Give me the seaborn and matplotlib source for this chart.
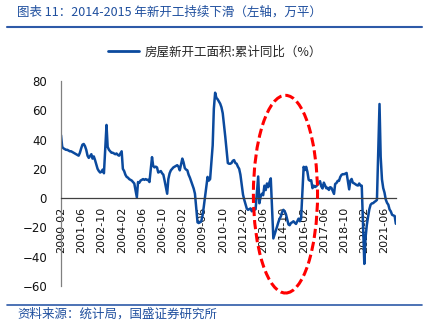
import pandas as pd
import matplotlib
matplotlib.use("Agg")
import matplotlib.pyplot as plt
import matplotlib.dates as mdates
from matplotlib.patches import Ellipse
from matplotlib.lines import Line2D
import seaborn as sns

# 房屋新开工面积:累计同比（%），每年 2–12 月（1 月不单独公布）
y2000 = [43, 35, 34, 33.5, 33, 33, 32.5, 32, 32, 31.5, 31]
y2001 = [30, 29.5, 29, 31, 34, 36.5, 37, 35.5, 33, 29, 27.5]
y2002 = [30, 27, 28.5, 26, 23, 20, 18.5, 17.5, 18, 19.5, 17]
y2003 = [50, 35, 33, 32, 31, 31, 30.5, 30, 30.5, 29.5, 29]
y2004 = [32, 20, 18.5, 16, 14.5, 14, 13, 12.5, 12, 11, 10]
y2005 = [0.5, 11, 10.5, 12, 12.5, 13, 12.5, 13, 12.5, 12.5, 11]
y2006 = [28, 22, 21, 21.5, 21, 17.5, 18, 18.5, 17, 16, 12]
y2007 = [3, 13, 17, 19, 20, 21, 21.5, 22, 22.5, 21.5, 19]
y2008 = [27, 24.5, 20.5, 19.5, 19, 16, 14, 11.5, 9, 6.5, 3]
y2009 = [-16.5, -17, -16.5, -16, -12, -6, 1, 8, 14.5, 12, 13]
y2010 = [36, 61, 72, 68.5, 67.5, 66, 64.5, 62, 58, 50, 42]
y2011 = [24, 23.5, 23.5, 24, 25.5, 26, 24, 23.5, 21.5, 20, 16]
y2012 = [2.5, -1, -4, -7, -8, -7.5, -7, -9, -7.5, -8, -7.5]
y2013 = [14.8, -3.5, 1, 3, 2, 8.5, 5.5, 10, 7.5, 11, 13.5]
y2014 = [-27.5, -25, -22, -19.5, -16.5, -14, -12.5, -9.5, -8, -9, -11]
y2015 = [-18, -18.5, -17, -16.5, -15.8, -16.8, -17.6, -15.8, -14, -15.8, -14]
y2016 = [21.4, 19.2, 21.4, 18, 12.5, 11.9, 12.2, 6.8, 8.5, 7.6, 8.1]
y2017 = [10.4, 11.6, 8, 6.6, 10.6, 8.6, 6.7, 7.1, 5.6, 7.5, 7]
y2018 = [2.9, 9.7, 10.3, 11.8, 11.8, 14.4, 15.9, 16.4, 16.3, 16.8, 17.2]
y2019 = [6, 11.9, 13.1, 10.5, 10.1, 9.5, 8.9, 8.6, 10, 8.6, 8.5]
y2020 = [-44.9, -27.2, -18.4, -12.8, -7.6, -4.5, -3.6, -3.4, -2.6, -2, -1.2]
y2021 = [64.3, 28.2, 12.8, 6.9, 3.8, -0.9, -3.2, -4.5, -7.7, -9.1, -11.4]
y2022 = [-12.2, -17.5]

years = list(range(2000, 2023))
yearly = [y2000, y2001, y2002, y2003, y2004, y2005, y2006, y2007, y2008, y2009,
          y2010, y2011, y2012, y2013, y2014, y2015, y2016, y2017, y2018, y2019,
          y2020, y2021, y2022]

series_name = "房屋新开工面积:累计同比（%）"
tick_dates = pd.date_range("2000-02-01", "2021-06-01", freq="16MS")
tick_labels = [d.strftime("%Y-%m") for d in tick_dates]

rows = []
for yr, vals in zip(years, yearly):
    for i, v in enumerate(vals):
        rows.append((pd.Timestamp(year=yr, month=i + 2, day=1), v))
df = pd.DataFrame(rows, columns=["date", "value"])

sns.set_theme(style="white")
plt.rcParams["font.family"] = ["DejaVu Sans", "Noto Sans CJK SC"]

BLUE_LINE = "#0B4A9E"
BLUE_TEXT = "#1F4F9E"

fig = plt.figure(figsize=(4.25, 3.32), dpi=100)
ax = fig.add_axes([61 / 425, 1 - 286 / 332, 335 / 425, 205 / 332])

sns.lineplot(data=df, x="date", y="value", ax=ax, color=BLUE_LINE,
             linewidth=1.8, legend=False)

ax.set_ylim(-60, 80)
ax.set_yticks([-60, -40, -20, 0, 20, 40, 60, 80])
ax.set_xlim(pd.Timestamp("2000-02-01"), pd.Timestamp("2022-03-05"))
ax.set_xticks(mdates.date2num(tick_dates))
ax.xaxis.set_major_formatter(plt.FixedFormatter(tick_labels))
ax.xaxis.set_minor_locator(plt.NullLocator())
ax.set_xlabel("")
ax.set_ylabel("")

for s in ["top", "right"]:
    ax.spines[s].set_visible(False)
ax.spines["bottom"].set_position(("data", 0))
ax.spines["bottom"].set_color("#404040")
ax.spines["bottom"].set_linewidth(0.9)
ax.spines["left"].set_color("#808080")
ax.spines["left"].set_linewidth(0.9)
ax.tick_params(axis="x", direction="in", length=3, width=0.8, color="#404040",
               pad=6, labelsize=8, labelcolor="#111111", labelrotation=90)
ax.tick_params(axis="y", direction="in", length=3, width=0.8, color="#808080",
               pad=10, labelsize=8.5, labelcolor="#111111")
ax.grid(False)

# 2014–2015 下滑区间标注
cx = mdates.date2num(pd.Timestamp("2014-11-20"))
ell = Ellipse((cx, 2.7), width=1545, height=135, fill=False, edgecolor="#FF0000",
              linewidth=2.2, linestyle=(0, (3, 1.3)), clip_on=False, zorder=5)
ax.add_patch(ell)

# 图例
handle = Line2D([], [], color=BLUE_LINE, linewidth=2.0)
fig.legend([handle], [series_name], loc="center",
           bbox_to_anchor=(215 / 425, 1 - 52 / 332), frameon=False,
           handlelength=2.5, handletextpad=0.4,
           prop={"family": ["Noto Sans CJK SC"], "size": 9})

# 标题与来源
fig.text(17 / 425, 1 - 12.5 / 332, "图表 11：2014-2015 年新开工持续下滑（左轴，万平）",
         ha="left", va="center", fontsize=9, color=BLUE_TEXT,
         family=["Noto Sans CJK SC"])
fig.add_artist(Line2D([7 / 425, 422 / 425], [1 - 27 / 332] * 2,
                      transform=fig.transFigure, color="#2E5AA8", linewidth=1.5))
fig.add_artist(Line2D([7 / 425, 422 / 425], [1 - 305 / 332] * 2,
                      transform=fig.transFigure, color="#2E5AA8", linewidth=1.2))
fig.text(17 / 425, 1 - 314 / 332, "资料来源：统计局，国盛证券研究所",
         ha="left", va="center", fontsize=9, color=BLUE_TEXT,
         family=["Noto Sans CJK SC"])

fig.savefig("out.png", dpi=100)
